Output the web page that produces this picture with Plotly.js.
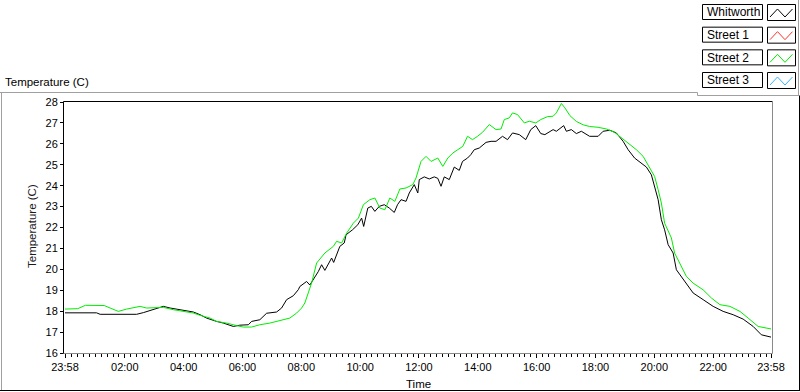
<!DOCTYPE html>
<html>
<head>
<meta charset="utf-8">
<script src="https://cdn.plot.ly/plotly-3.0.1.min.js"></script>
<style>
  html, body { margin: 0; padding: 0; background: #fff; }
  #chart { width: 800px; height: 392px; }
</style>
</head>
<body>
<div id="chart"></div>
<script>
// ---- Data (hours since midnight; -0.033 = 23:58 of the previous day) ----
const whitworthHours = [-0.033,0.5,1.04,1.16,1.8,2.40,2.63,2.97,3.31,3.54,3.88,4.33,4.56,4.78,5.12,5.35,5.69,5.91,6.20,6.31,6.59,6.82,7.16,7.33,7.50,7.73,7.90,7.95,8.18,8.29,8.58,8.69,8.80,9.03,9.10,9.31,9.46,9.52,9.74,9.92,10.05,10.12,10.26,10.38,10.50,10.65,10.82,10.99,11.16,11.27,11.39,11.56,11.67,11.84,11.96,12.01,12.18,12.35,12.52,12.64,12.75,12.86,13.03,13.20,13.37,13.48,13.65,13.76,13.88,14.05,14.28,14.45,14.62,14.84,15.01,15.18,15.41,15.63,15.80,15.97,16.14,16.28,16.56,16.67,16.92,17.01,17.18,17.35,17.52,17.80,18.09,18.26,18.49,18.71,18.94,19.11,19.33,19.56,19.73,19.90,20.01,20.13,20.24,20.35,20.47,20.64,20.75,20.92,21.15,21.32,21.66,22.00,22.34,22.68,23.02,23.36,23.64,23.967];
const whitworthTemp = [17.92,17.93,17.92,17.85,17.84,17.85,17.93,18.07,18.23,18.15,18.07,17.96,17.83,17.67,17.51,17.43,17.27,17.33,17.35,17.51,17.59,17.90,17.96,18.15,18.55,18.74,19.03,19.18,19.42,19.25,19.90,20.22,19.95,20.54,20.33,21.10,21.26,21.65,21.89,22.13,22.45,22.05,22.93,23.01,22.77,23.01,23.09,22.93,22.72,23.09,23.33,23.25,23.65,24.05,23.65,24.29,24.42,24.32,24.42,24.35,23.97,24.42,24.29,24.89,24.73,25.16,25.32,25.48,25.72,25.80,26.07,26.12,26.12,26.36,26.20,26.52,26.44,26.20,26.68,26.87,26.49,26.44,26.68,26.60,26.87,26.60,26.68,26.49,26.60,26.36,26.36,26.60,26.65,26.52,26.12,25.72,25.32,25.05,24.89,24.52,23.97,23.33,22.37,21.89,21.18,20.78,19.98,19.66,19.18,18.87,18.55,18.23,17.99,17.83,17.62,17.27,16.87,16.76];

const street1Hours = [];
const street1Temp = [];

const street2Hours = [-0.033,0.4,0.66,1.30,1.50,1.78,2.06,2.40,2.52,2.74,3.08,3.31,3.65,3.99,4.33,4.56,4.90,5.12,5.46,5.80,6.03,6.31,6.59,6.93,7.16,7.39,7.61,7.84,8.01,8.12,8.24,8.35,8.52,8.80,9.09,9.20,9.37,9.54,9.77,9.94,10.11,10.33,10.50,10.67,10.84,11.01,11.18,11.35,11.56,11.79,11.90,12.07,12.24,12.41,12.64,12.81,12.98,13.15,13.32,13.49,13.65,13.82,13.99,14.16,14.39,14.62,14.79,14.90,15.07,15.18,15.35,15.58,15.75,15.97,16.14,16.37,16.56,16.67,16.84,16.96,17.13,17.35,17.58,17.80,18.09,18.37,18.65,18.94,19.16,19.39,19.62,19.84,20.01,20.13,20.24,20.35,20.58,20.69,20.86,21.09,21.32,21.66,21.94,22.23,22.57,22.91,23.19,23.53,23.967];
const street2Temp = [18.10,18.12,18.28,18.27,18.15,17.99,18.10,18.18,18.23,18.15,18.15,18.18,18.07,17.99,17.91,17.80,17.67,17.51,17.43,17.31,17.24,17.24,17.35,17.43,17.51,17.59,17.67,17.91,18.15,18.39,18.86,19.35,20.30,20.78,21.10,21.34,21.26,21.73,22.21,22.45,23.09,23.33,23.41,22.93,22.85,23.41,23.25,23.84,23.89,24.05,24.37,25.16,25.40,25.16,25.32,24.92,25.32,25.56,25.72,25.88,26.36,26.20,26.36,26.55,26.92,26.68,26.71,27.16,27.24,27.48,27.40,27.00,27.08,27.00,27.16,27.30,27.32,27.48,27.93,27.72,27.35,27.07,26.91,26.83,26.79,26.71,26.55,26.23,25.96,25.72,25.40,24.84,24.44,23.81,23.17,22.21,21.50,20.78,20.30,19.66,19.34,19.02,18.63,18.31,18.23,17.99,17.67,17.27,17.15];

const street3Hours = [];
const street3Temp = [];

const seriesNames = ["Whitworth", "Street 1", "Street 2", "Street 3"];
const seriesColors = ["#000000", "#ff3030", "#00ee00", "#33b5ff"];

const xTickVals = [-1/30, 2, 4, 6, 8, 10, 12, 14, 16, 18, 20, 22, 24 - 1/30];
const xTickText = ["23:58","02:00","04:00","06:00","08:00","10:00","12:00","14:00","16:00","18:00","20:00","22:00","23:58"];
const yTickVals = [16,17,18,19,20,21,22,23,24,25,26,27,28];

// ---- Layout geometry (pixels) ----
const W = 800, H = 392;
const L = 65, R = 771, T = 102, B = 353;
const PW = R - L, PH = B - T;
const px = x => (x - L) / PW;
const py = y => (B - y) / PH;

const FONT = "Liberation Sans, Arial, sans-serif";

const xs = [whitworthHours, street1Hours, street2Hours, street3Hours];
const ys = [whitworthTemp, street1Temp, street2Temp, street3Temp];
const traces = seriesNames.map((n, i) => ({
  x: xs[i], y: ys[i], name: n, type: 'scatter', mode: 'lines',
  line: { color: seriesColors[i], width: 1 }, showlegend: false,
  hoverinfo: 'skip'
}));

function line(x0, y0, x1, y1, color, width) {
  return { type: 'line', xref: 'paper', yref: 'paper', x0: px(x0), y0: py(y0), x1: px(x1), y1: py(y1),
           line: { color: color, width: width || 1 }, layer: 'above' };
}
function rect(x0, y0, x1, y1, color) {
  return { type: 'rect', xref: 'paper', yref: 'paper', x0: px(x0), y0: py(y0), x1: px(x1), y1: py(y1),
           line: { color: color, width: 1 }, fillcolor: 'rgba(0,0,0,0)', layer: 'above' };
}

const shapes = [
  // outer frame
  line(0, 92.5, 697.5, 92.5, '#a0a0a0'),
  line(697.5, 92.5, 697.5, 95.5, '#a0a0a0'),
  line(697.5, 95.5, 799, 95.5, '#a0a0a0'),
  line(798.5, 0, 798.5, 95.5, '#a0a0a0'),
  line(1.5, 92.5, 1.5, 391, '#a0a0a0'),
  line(0, 390.5, 800, 390.5, '#000000'),
  line(799.5, 95.5, 799.5, 391, '#000000'),
  // plot frame
  line(63.5, 101.5, 772.5, 101.5, '#000000'),
  line(63.5, 101.5, 63.5, 353, '#000000'),
  line(772.5, 101.5, 772.5, 353.5, '#8a8a8a'),
  line(63.5, 353.5, 772.5, 353.5, '#8a8a8a')
];

const annotations = [
  { text: 'Temperature (C)', xref: 'paper', yref: 'paper', x: px(32), y: py(226), textangle: -90,
    showarrow: false, xanchor: 'center', yanchor: 'middle', font: { family: FONT, size: 11.5, color: '#1a1a1a' } },
  { text: 'Time', xref: 'paper', yref: 'paper', x: px(418), y: py(384),
    showarrow: false, xanchor: 'center', yanchor: 'middle', font: { family: FONT, size: 11.5, color: '#000' } }
];

// legend drawn LabVIEW-style
seriesNames.forEach((n, i) => {
  const dy = i * 22.67;
  shapes.push(rect(702.5, 4.5 + dy, 762.5, 19.5 + dy, '#000000'));
  shapes.push(rect(767.5, 4.5 + dy, 795.5, 20.5 + dy, '#000000'));
  const pts = [[770, 17 + dy], [777.5, 9 + dy], [785, 17 + dy], [792.5, 9 + dy]];
  const path = pts.map((p, k) => (k ? 'L' : 'M') + px(p[0]).toFixed(5) + ',' + py(p[1]).toFixed(5)).join(' ');
  shapes.push({ type: 'path', xref: 'paper', yref: 'paper', path: path,
                line: { color: seriesColors[i], width: 1 }, layer: 'above' });
  annotations.push({ text: n, xref: 'paper', yref: 'paper', x: px(704.5), y: py(12.3 + dy),
    showarrow: false, xanchor: 'left', yanchor: 'middle',
    font: { family: FONT, size: 12, color: '#000' } });
});

const layout = {
  width: W, height: H,
  margin: { l: L, r: W - R, t: T, b: H - B, pad: 0 },
  paper_bgcolor: '#ffffff', plot_bgcolor: '#ffffff',
  showlegend: false,
  title: { text: 'Temperature (C)', x: 5 / W, xref: 'container', xanchor: 'left',
           y: 1 - 82 / H, yref: 'container', yanchor: 'middle',
           font: { family: FONT, size: 11.5, color: '#000' } },
  xaxis: {
    range: [-1/30, 24 - 1/30], tickmode: 'array', tickvals: xTickVals, ticktext: xTickText,
    ticks: 'outside', ticklen: 4, tickcolor: '#000', tickwidth: 1,
    minor: { tickmode: 'linear', tick0: 0, dtick: 0.2, ticks: 'outside', ticklen: 3, tickcolor: '#000', showgrid: false },
    showgrid: false, zeroline: false, showline: false,
    tickfont: { family: FONT, size: 11, color: '#000' }, fixedrange: true
  },
  yaxis: {
    range: [16, 28], tickmode: 'array', tickvals: yTickVals,
    ticks: 'outside', ticklen: 4, tickcolor: '#000', tickwidth: 1,
    showgrid: false, zeroline: false, showline: false,
    tickfont: { family: FONT, size: 11, color: '#000' }, fixedrange: true
  },
  shapes: shapes,
  annotations: annotations
};

Plotly.newPlot('chart', traces, layout, { staticPlot: true, displayModeBar: false });
</script>
</body>
</html>
